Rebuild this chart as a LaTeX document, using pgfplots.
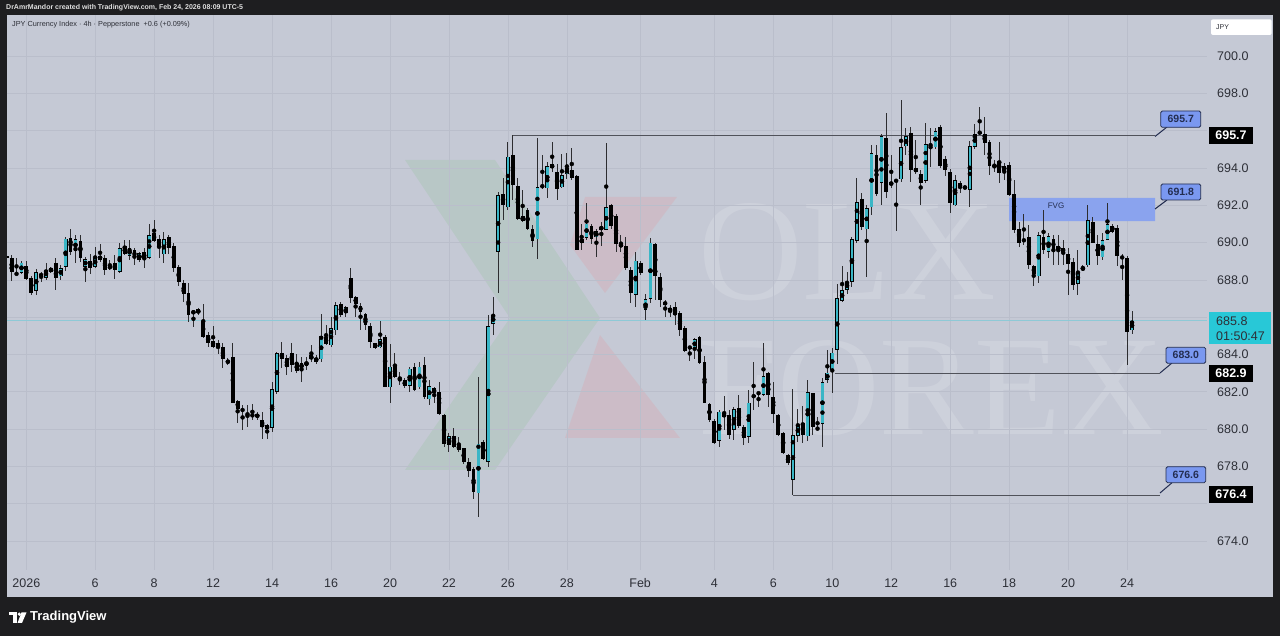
\documentclass[border=0pt]{standalone}
\usepackage{pgfplots}
\pgfplotsset{compat=1.18}
\usepackage{pgfplotstable}
\usepackage{fontspec}
\setmainfont{Liberation Sans}
\newfontfamily\wmfont{Liberation Serif}

\definecolor{frame}{RGB}{30,30,32}
\definecolor{panel}{RGB}{197,201,213}
\definecolor{gridc}{RGB}{186,190,203}
\definecolor{axtext}{RGB}{45,47,55}
\definecolor{bull}{RGB}{58,182,198}
\definecolor{wick}{RGB}{45,45,48}
\definecolor{levelc}{RGB}{80,82,90}
\definecolor{fvgc}{RGB}{138,163,238}
\definecolor{calloutc}{RGB}{122,152,240}
\definecolor{calloutd}{RGB}{35,45,80}
\definecolor{nowc}{RGB}{40,200,215}

% 4h candles: k = bar index, o h l c
\pgfplotstableread{
k o h l c
0 689.3 689.5 688.8 689.2
1 689.2 689.33 687.94 688.43
2 688.35 689.2 688.25 688.3
3 688.38 689.0 688.3 688.92
4 688.74 689.0 687.99 688.03
5 688.13 688.2 687.2 687.31
6 687.42 688.61 687.18 688.43
7 688.3 688.43 687.9 688.24
8 688.13 688.9 688.0 688.53
9 688.62 688.7 688.4 688.44
10 688.89 689.2 687.46 688.13
11 688.2 688.8 688.0 688.62
12 688.71 690.3 688.5 690.22
13 690.28 690.71 689.33 689.51
14 689.56 690.4 688.92 690.19
15 690.1 690.4 688.97 689.15
16 688.71 689.24 687.9 689.1
17 689.01 689.42 688.35 688.62
18 688.71 689.78 688.62 689.2
19 689.06 689.96 688.97 689.3
20 689.2 689.33 688.26 688.53
21 688.74 689.06 688.53 688.62
22 688.92 689.33 688.03 688.53
23 688.44 689.96 688.38 689.69
24 689.81 690.14 689.33 689.37
25 689.28 690.14 689.06 689.69
26 689.6 689.69 688.8 689.2
27 689.06 689.51 688.97 689.42
28 689.51 689.69 688.62 689.1
29 689.2 690.99 689.15 690.4
30 690.49 691.21 690.05 690.1
31 690.22 690.4 689.15 689.78
32 689.38 690.58 688.92 690.19
33 690.31 690.4 689.42 689.69
34 689.81 689.96 688.44 688.62
35 688.71 688.8 687.67 687.9
36 687.85 687.99 686.83 687.22
37 687.31 687.85 685.76 686.11
38 686.2 686.38 685.45 686.33
39 686.42 686.5 686.1 686.2
40 685.81 686.7 684.86 684.92
41 685.04 685.22 684.42 684.6
42 684.72 685.52 684.33 684.42
43 684.6 684.77 684.06 684.33
44 684.42 684.6 683.26 683.74
45 683.62 683.8 683.43 683.6
46 683.84 684.6 681.38 681.41
47 681.52 681.59 680.34 681.11
48 681.06 681.29 679.95 680.97
49 680.84 681.29 680.13 680.75
50 680.7 681.35 680.5 680.75
51 680.8 680.93 680.5 680.63
52 680.52 680.93 679.5 680.13
53 680.22 680.3 679.45 679.98
54 680.09 682.54 679.86 682.13
55 682.0 684.15 681.88 684.06
56 684.09 684.68 683.25 683.74
57 683.84 683.97 682.9 683.34
58 684.09 684.6 683.08 683.43
59 683.52 684.02 682.99 683.13
60 683.25 683.88 682.54 683.52
61 683.41 683.88 683.17 683.61
62 683.74 684.5 683.61 683.95
63 683.83 683.97 683.52 683.61
64 683.74 686.2 683.61 684.99
65 684.92 685.58 684.5 684.56
66 684.5 685.99 684.42 685.4
67 685.31 686.83 685.04 686.65
68 686.7 686.83 686.02 686.11
69 686.2 686.6 686.02 686.52
70 688.13 688.62 686.74 687.01
71 687.1 687.13 686.02 686.7
72 686.63 686.74 685.31 686.29
73 686.2 686.24 685.31 685.58
74 685.52 685.67 684.33 684.68
75 684.6 684.65 684.3 684.38
76 684.38 685.81 684.33 684.81
77 684.95 685.04 682.27 682.27
78 682.24 684.56 681.38 683.34
79 683.43 684.09 682.72 682.81
80 682.72 683.08 682.36 682.63
81 682.63 682.72 682.18 682.31
82 682.31 683.34 682.0 683.25
83 683.31 683.52 682.06 682.09
84 682.24 683.61 682.13 683.34
85 683.43 683.88 681.65 681.7
86 681.59 682.63 681.29 682.31
87 682.18 682.27 681.38 681.91
88 682.0 682.54 680.75 680.8
89 680.75 680.84 679.05 679.23
90 679.14 679.77 678.79 679.63
91 679.63 680.04 678.97 679.05
92 679.14 679.55 678.79 678.88
93 678.96 679.0 678.16 678.25
94 678.25 678.43 677.44 677.77
95 677.84 677.98 676.28 676.64
96 676.57 682.8 675.3 679.23
97 679.32 679.4 678.34 678.43
98 678.25 686.11 677.98 685.52
99 685.63 687.1 685.04 686.11
100 689.51 692.72 687.29 692.55
101 692.6 693.46 691.2 692.0
102 691.89 695.41 691.74 694.6
103 694.69 695.76 692.28 693.08
104 693.03 693.44 691.21 691.3
105 691.17 692.81 691.12 691.42
106 691.74 691.88 690.67 690.76
107 690.7 690.94 689.74 690.1
108 690.17 695.58 689.1 692.96
109 693.0 694.69 692.9 693.05
110 692.9 694.33 692.37 694.1
111 693.98 695.4 693.8 694.21
112 693.8 694.24 692.31 692.9
113 692.96 694.74 692.9 693.62
114 693.67 694.78 693.39 693.98
115 693.89 695.1 693.35 693.49
116 693.57 693.62 689.6 689.63
117 689.99 690.99 689.63 690.17
118 690.28 692.14 690.13 691.03
119 690.88 690.99 689.95 690.22
120 690.28 690.76 689.24 690.62
121 690.7 691.12 689.81 690.85
122 690.7 695.32 690.67 691.92
123 692.01 692.1 690.76 690.88
124 691.42 691.53 689.51 689.92
125 689.78 690.4 689.51 689.92
126 689.81 690.31 688.52 688.61
127 688.52 688.7 686.74 687.31
128 687.18 689.51 686.56 689.02
129 688.92 689.02 688.26 688.38
130 686.38 687.27 685.84 686.95
131 687.0 690.22 686.74 689.99
132 689.95 689.99 686.92 688.2
133 688.17 688.35 686.56 686.92
134 686.83 686.92 686.02 686.65
135 686.52 686.65 686.02 686.29
136 686.56 686.83 685.58 686.11
137 686.24 686.35 684.99 685.31
138 685.4 685.53 684.15 684.2
139 684.35 684.45 683.67 684.4
140 684.33 684.86 683.74 684.81
141 684.92 684.99 683.49 683.52
142 683.61 683.92 681.38 681.41
143 681.34 681.41 680.4 680.48
144 680.45 680.52 679.2 679.27
145 679.38 681.02 679.05 680.93
146 680.84 681.77 679.95 680.63
147 680.75 681.02 679.5 679.68
148 679.98 681.2 679.45 681.06
149 681.11 681.82 680.04 680.16
150 680.13 680.22 679.14 679.5
151 679.59 682.09 679.27 681.41
152 681.83 683.61 681.02 681.7
153 681.9 682.0 681.2 681.95
154 681.83 684.63 681.77 682.84
155 682.99 683.08 681.2 681.83
156 681.74 682.54 680.34 680.81
157 680.75 680.84 679.63 679.68
158 679.81 679.86 678.66 678.73
159 678.61 678.66 678.07 678.16
160 677.27 682.13 676.46 679.68
161 679.63 681.11 679.32 680.22
162 680.31 681.24 679.27 679.68
163 679.63 682.63 679.38 682.0
164 681.91 681.95 679.68 680.13
165 680.05 680.66 679.98 680.0
166 680.31 682.72 679.05 682.54
167 682.63 684.24 682.49 683.02
168 683.17 684.33 681.95 684.1
169 684.24 687.81 683.52 687.01
170 686.88 688.74 686.83 687.46
171 687.49 688.44 687.24 687.9
172 687.9 690.31 687.63 690.17
173 690.1 693.44 689.96 692.19
174 692.32 692.64 690.67 690.82
175 690.71 692.0 688.17 691.83
176 691.89 695.23 691.48 694.78
177 694.69 695.23 692.5 692.6
178 693.21 695.86 692.01 695.71
179 695.59 696.93 692.37 692.73
180 693.09 694.69 692.91 693.25
181 693.35 693.44 690.64 693.3
182 693.39 697.64 693.27 695.11
183 695.18 696.12 694.69 695.71
184 695.89 696.18 693.27 693.89
185 693.98 695.5 693.68 693.8
186 693.68 693.89 692.01 693.21
187 693.32 696.43 693.18 695.28
188 695.2 696.18 694.07 695.25
189 695.11 696.12 695.0 696.0
190 696.21 696.3 693.98 694.1
191 694.46 694.64 693.57 693.89
192 693.8 693.93 691.6 692.14
193 692.01 693.62 691.96 693.35
194 693.18 693.32 692.64 692.91
195 693.0 693.05 692.85 692.9
196 692.82 695.46 691.92 695.18
197 695.11 696.36 695.0 695.82
198 695.95 697.25 695.77 695.86
199 695.82 696.71 694.69 695.32
200 695.41 695.5 693.62 694.1
201 693.98 694.46 693.8 694.21
202 694.39 695.41 693.21 693.75
203 693.85 694.28 693.35 694.1
204 694.16 694.33 692.5 692.55
205 692.6 693.35 690.53 690.67
206 690.76 691.12 689.78 689.96
207 690.15 691.56 689.87 690.1
208 690.28 690.94 688.61 688.79
209 688.74 688.79 687.67 688.31
210 688.2 690.58 687.81 690.4
211 690.28 691.74 689.42 689.6
212 689.51 690.49 689.15 690.35
213 690.22 690.4 688.79 689.6
214 689.6 690.4 688.79 689.81
215 689.69 690.13 688.79 689.51
216 689.38 689.69 687.19 688.88
217 688.97 689.15 687.45 687.72
218 687.81 689.6 687.19 688.44
219 688.53 688.79 688.49 688.67
220 688.79 692.01 688.7 691.21
221 691.12 691.39 689.96 689.99
222 689.92 690.4 688.79 689.28
223 689.21 690.49 689.06 690.13
224 690.17 692.14 690.13 690.99
225 690.88 690.99 690.53 690.58
226 690.81 690.94 688.74 689.28
227 689.2 689.38 688.03 689.2
228 689.15 689.28 683.43 685.22
229 685.31 686.35 685.1 685.81
}\candles

\begin{document}
\begin{tikzpicture}[x=1pt,y=1pt]
\useasboundingbox (0,0) rectangle (1280,636);
\fill[frame] (0,0) rectangle (1280,636);
\fill[panel] (7,39) rectangle (1273,621);

% watermark logo and text
\fill[green!45!gray, opacity=0.1] (405,476) -- (495,476) -- (600,318) -- (510,318) -- cycle;
\fill[green!45!gray, opacity=0.1] (510,318) -- (600,318) -- (495,166) -- (405,166) -- cycle;
\fill[red!60!white, opacity=0.12] (585,439) -- (677,439) -- (605,343) -- (570,391) -- cycle;
\fill[red!60!white, opacity=0.12] (600,301) -- (680,198) -- (565,198) -- cycle;
\node[anchor=base west, inner sep=0pt, text=white, text opacity=0.15, font=\wmfont\fontsize{145}{145}\selectfont] at (698,336) {OLX};
\node[anchor=base west, inner sep=0pt, text=white, text opacity=0.15, font=\wmfont\fontsize{142}{142}\selectfont] at (698,201) {FOREX};

\begin{axis}[
  at={(7pt,66pt)}, anchor=south west,
  scale only axis, width=1200pt, height=555pt,
  xmin=0.061, xmax=244.26, ymin=672.44, ymax=702.2,
  axis line style={draw=none}, tick style={draw=none},
  grid=major, major grid style={gridc, line width=0.6pt},
  /pgf/number format/assume math mode=true,
  ytick={674,676,...,700},
  yticklabels={674.0,,678.0,680.0,682.0,684.0,,688.0,690.0,692.0,694.0,,698.0,700.0},
  yticklabel pos=right,
  yticklabel style={anchor=west, inner sep=0pt, xshift=10pt, text=axtext,
    font=\fontsize{12.5}{14}\selectfont},
  xtick={4,18,30,42,54,66,78,90,102,114,128.9,144,156,168,180,192,204,216,228},
  xticklabels={2026,6,8,12,14,16,20,22,26,28,Feb,4,6,10,12,16,18,20,24},
  xticklabel style={anchor=center, inner sep=0pt, yshift=-13pt, text=axtext,
    font=\fontsize{12.5}{14}\selectfont},
]
% fair value gap
\addplot[draw=none, fill=fvgc] coordinates {(204,691.15) (233.7,691.15) (233.7,692.4) (204,692.4) (204,691.15)};
% levels
\addplot[levelc, line width=1pt] coordinates {(103,695.73) (233.7,695.73)};
\addplot[levelc, line width=1pt] coordinates {(168.6,682.97) (234.7,682.97)};
\addplot[levelc, line width=1pt] coordinates {(160,676.42) (234.7,676.42)};
% current price line
\addplot[nowc!35!panel, line width=0.6pt] coordinates {(0,685.81) (244.26,685.81)};
% wicks
\addplot[only marks, mark=none, error bars/.cd, y dir=both, y explicit, error mark=none,
  error bar style={wick, line width=1pt}]
  table[x=k, y expr={(\thisrow{h}+\thisrow{l})/2}, y error expr={(\thisrow{h}-\thisrow{l})/2}] {\candles};
% bodies (dark outline, black for falling bars)
\addplot[only marks, mark=none, error bars/.cd, y dir=both, y explicit, error mark=none,
  error bar style={black, line width=3.8pt}]
  table[x=k, y expr={(\thisrow{o}+\thisrow{c})/2}, y error expr={max(abs(\thisrow{c}-\thisrow{o})/2,0.03)}] {\candles};
% rising bars filled teal
\addplot[only marks, mark=none, restrict expr to domain={\thisrow{c}-\thisrow{o}}{0.1:100},
  error bars/.cd, y dir=both, y explicit, error mark=none,
  error bar style={bull, line width=2.6pt}]
  table[x=k, y expr={(\thisrow{o}+\thisrow{c})/2}, y error expr={(\thisrow{c}-\thisrow{o})/2-0.035}] {\candles};
\end{axis}

\node[text=calloutd, font=\fontsize{8}{9}\selectfont] at (1056,430) {FVG};

% callouts
\tikzset{callout/.style={fill=calloutc, draw=calloutd, line width=0.8pt, rounded corners=1.5pt},
  cotext/.style={text=calloutd, font=\bfseries\fontsize{10.5}{11}\selectfont}}
\draw[calloutd, line width=1pt] (1167,509) -- (1155,499.5);
\draw[callout] (1160.7,508.7) rectangle (1200.7,525);
\node[cotext] at (1180.7,516.9) {695.7};
\draw[calloutd, line width=1pt] (1167,436) -- (1155,427);
\draw[callout] (1161,436) rectangle (1200.7,452);
\node[cotext] at (1180.8,444) {691.8};
\draw[calloutd, line width=1pt] (1172,273) -- (1160,263);
\draw[callout] (1166,272.7) rectangle (1205.7,288.7);
\node[cotext] at (1185.8,280.7) {683.0};
\draw[calloutd, line width=1pt] (1172,153.3) -- (1160,143);
\draw[callout] (1166,153.3) rectangle (1205.7,169.3);
\node[cotext] at (1185.8,161.3) {676.6};

% price tags on the scale
\tikzset{ptag/.style={fill=black}, pttext/.style={text=white, font=\bfseries\fontsize{12.5}{14}\selectfont}}
\fill[ptag] (1209.3,491.7) rectangle (1252.7,509.3);
\node[pttext] at (1231,500.5) {695.7};
\fill[ptag] (1209.3,253.7) rectangle (1252.7,271);
\node[pttext] at (1231,262.3) {682.9};
\fill[ptag] (1209.3,132.7) rectangle (1252.7,150);
\node[pttext] at (1231,141.3) {676.4};
\fill[nowc] (1209.3,292) rectangle (1270.7,324.3);
\node[anchor=west, inner sep=0pt, text=axtext, font=\fontsize{12.5}{14}\selectfont] at (1216,315) {685.8};
\node[anchor=west, inner sep=0pt, text=axtext, font=\fontsize{12.5}{14}\selectfont] at (1216,300) {01:50:47};

% symbol box
\fill[white, rounded corners=2pt] (1211,601) rectangle (1271.7,616.7);
\node[anchor=west, inner sep=0pt, text=axtext, font=\fontsize{7}{8}\selectfont] at (1216,608.8) {JPY};

% header texts
\node[anchor=west, inner sep=0pt, text=white!88!black, font=\bfseries\fontsize{7}{8}\selectfont] at (6,628) {DrAmrMandor created with TradingView.com, Feb 24, 2026 08:09 UTC-5};
\node[anchor=west, inner sep=0pt, text=axtext, font=\fontsize{7.3}{8}\selectfont] at (12,611) {JPY Currency Index · 4h · Pepperstone \ +0.6 (+0.09\%)};

% TradingView logo
\fill[white] (8.5,23.5) rectangle (16.5,20.5);
\fill[white] (12.5,20.5) rectangle (16.5,13);
\fill[white] (19.3,21.8) circle (1.8);
\fill[white] (21.5,23.5) -- (26.5,23.5) -- (22,13) -- (17.5,13) -- cycle;
\node[anchor=west, inner sep=0pt, text=white, font=\bfseries\fontsize{13}{14}\selectfont] at (30,18.5) {TradingView};
\end{tikzpicture}
\end{document}
